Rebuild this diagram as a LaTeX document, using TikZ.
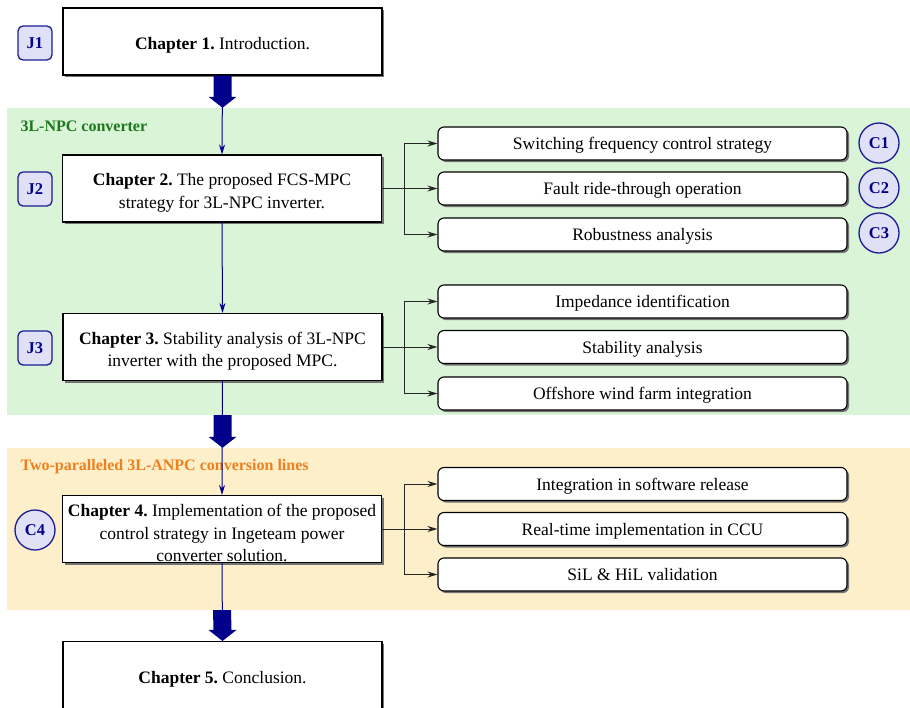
\documentclass[tikz,border=0pt]{standalone}
\usepackage{fontspec}
\setmainfont{Liberation Serif}
\usetikzlibrary{calc,shadows,arrows.meta}
\definecolor{navyblue}{RGB}{0,0,139}
\definecolor{labelfill}{RGB}{224,224,246}
\definecolor{labelline}{RGB}{28,28,150}
\definecolor{npcgreen}{RGB}{217,244,214}
\definecolor{npctitle}{RGB}{28,120,28}
\definecolor{anpcorange}{RGB}{252,239,202}
\definecolor{anpctitle}{RGB}{240,128,30}
\def\bigarrow(#1)(#2){\fill[navyblue] ($(#1)+(-9,0)$) -- ($(#2)+(-9,-11)$) -- ($(#2)+(-14,-11)$) -- (#2) -- ($(#2)+(14,-11)$) -- ($(#2)+(9,-11)$) -- ($(#1)+(9,0)$) -- cycle;}
\newcommand\chaptext[1]{\raisebox{-8.4pt}[0pt][0pt]{\parbox[c]{318pt}{\centering #1}}}
\frenchspacing

\begin{document}
\begin{tikzpicture}[x=1pt,y=-1pt,
	chap/.style={draw, line width=1.1pt, fill=white, minimum width=319pt, minimum height=67pt, inner sep=0pt, font=\fontsize{17.5}{22.5}\selectfont, drop shadow={shadow xshift=2pt, shadow yshift=-2pt, fill=black!55, opacity=1}},
	task/.style={draw, line width=1.1pt, fill=white, rounded corners=6pt, minimum width=409pt, minimum height=33pt, text depth=-2pt, inner sep=0pt, font=\fontsize{17.5}{22}\selectfont, drop shadow={shadow xshift=2pt, shadow yshift=-2pt, fill=black!55, opacity=1}},
	jtag/.style={draw=labelline, line width=1.3pt, fill=labelfill, rounded corners=5pt, minimum size=34pt, inner sep=0pt, text=navyblue, font=\fontsize{16.5}{18}\selectfont\bfseries},
	ctag/.style={circle, draw=labelline, line width=1.3pt, fill=labelfill, minimum size=40pt, inner sep=0pt, text=navyblue, font=\fontsize{16.5}{18}\selectfont\bfseries},
	region/.style={minimum width=903pt, inner sep=0pt},
	flow/.style={draw=navyblue, line width=1pt, -{Stealth[length=10pt,width=6pt]}},
	fork/.style={draw=black!85, line width=1pt, -{Stealth[length=10pt,width=6pt]}}]
		%%%%% START %%%%%
		\useasboundingbox (0,0) rectangle (910,707);

		% backgrounds
		\node[region, fill=npcgreen, minimum height=307pt] (npc) at (458.5,261.5) {};
		\node[region, fill=anpcorange, minimum height=162pt] (anpc) at (458.5,529) {};
		\node[anchor=west, text=npctitle, font=\fontsize{16}{18}\selectfont\bfseries] (npctxt) at (17,126.5) {3L-NPC converter};
		\node[anchor=west, text=anpctitle, font=\fontsize{16}{18}\selectfont\bfseries] (anpctxt) at (17,467) {Two-paralleled 3L-ANPC conversion lines};

		% chapters
		\node[chap] (ch1) at (222.5,41.5) {\chaptext{\textbf{Chapter 1.} Introduction.}};
		\node[chap] (ch2) at (222,188.5) {\chaptext{\textbf{Chapter 2.} The proposed FCS-MPC\\ strategy for 3L-NPC inverter.}};
		\node[chap] (ch3) at (222.5,347) {\chaptext{\textbf{Chapter 3.} Stability analysis of 3L-NPC\\ inverter with the proposed MPC.}};
		\node[chap] (ch4) at (222,529) {\chaptext{\textbf{Chapter 4.} Implementation of the proposed\\ control strategy in Ingeteam power\\ converter solution.}};
		\node[chap] (ch5) at (222.5,675) {\chaptext{\textbf{Chapter 5.} Conclusion.}};

		% contributions
		\node[task] (sw) at (642.5,143.5) {Switching frequency control strategy};
		\node[task] (frt) at (642.5,188.5) {Fault ride-through operation};
		\node[task] (rob) at (642.5,234.5) {Robustness analysis};
		\node[task] (imp) at (642.5,301.5) {Impedance identification};
		\node[task] (stab) at (642.5,347) {Stability analysis};
		\node[task] (wind) at (642.5,393.5) {Offshore wind farm integration};
		\node[task] (soft) at (642.5,484) {Integration in software release};
		\node[task] (ccu) at (642.5,529) {Real-time implementation in CCU};
		\node[task] (hil) at (642.5,574.5) {SiL \& HiL validation};

		% tags
		\node[jtag] (j1) at (35,43) {J1};
		\node[jtag] (j2) at (35,189) {J2};
		\node[jtag] (j3) at (35,348) {J3};
		\node[ctag] (c1) at (879,143) {C1};
		\node[ctag] (c2) at (879,188) {C2};
		\node[ctag] (c3) at (879,233) {C3};
		\node[ctag] (c4) at (35,530) {C4};

		% forks
		\foreach \src/\a/\b/\c in {ch2/sw/frt/rob, ch3/imp/stab/wind, ch4/soft/ccu/hil} {
			\draw[fork] (\src.east) -- ++(22,0) |- (\a.west);
			\draw[fork] (\src.east) -- (\b.west);
			\draw[fork] (\src.east) -- ++(22,0) |- (\c.west);
		}

		% main flow
		\draw[flow] (ch1.south) -- (ch2.north);
		\draw[flow] (ch2.south) -- (ch3.north);
		\draw[flow] (ch3.south) -- (ch4.north);
		\draw[flow] (ch4.south) -- (ch5.north);

		\coordinate (t1) at (ch1.south |- npc.north);
		\coordinate (b1) at (ch3.south |- npc.south);
		\coordinate (t2) at (ch3.south |- anpc.north);
		\coordinate (b2) at (ch4.south |- anpc.south);
		\bigarrow(ch1.south)(t1)
		\bigarrow(b1)(t2)
		\bigarrow(b2)(ch5.north)
		%%%%% END %%%%%
\end{tikzpicture}
\end{document}
